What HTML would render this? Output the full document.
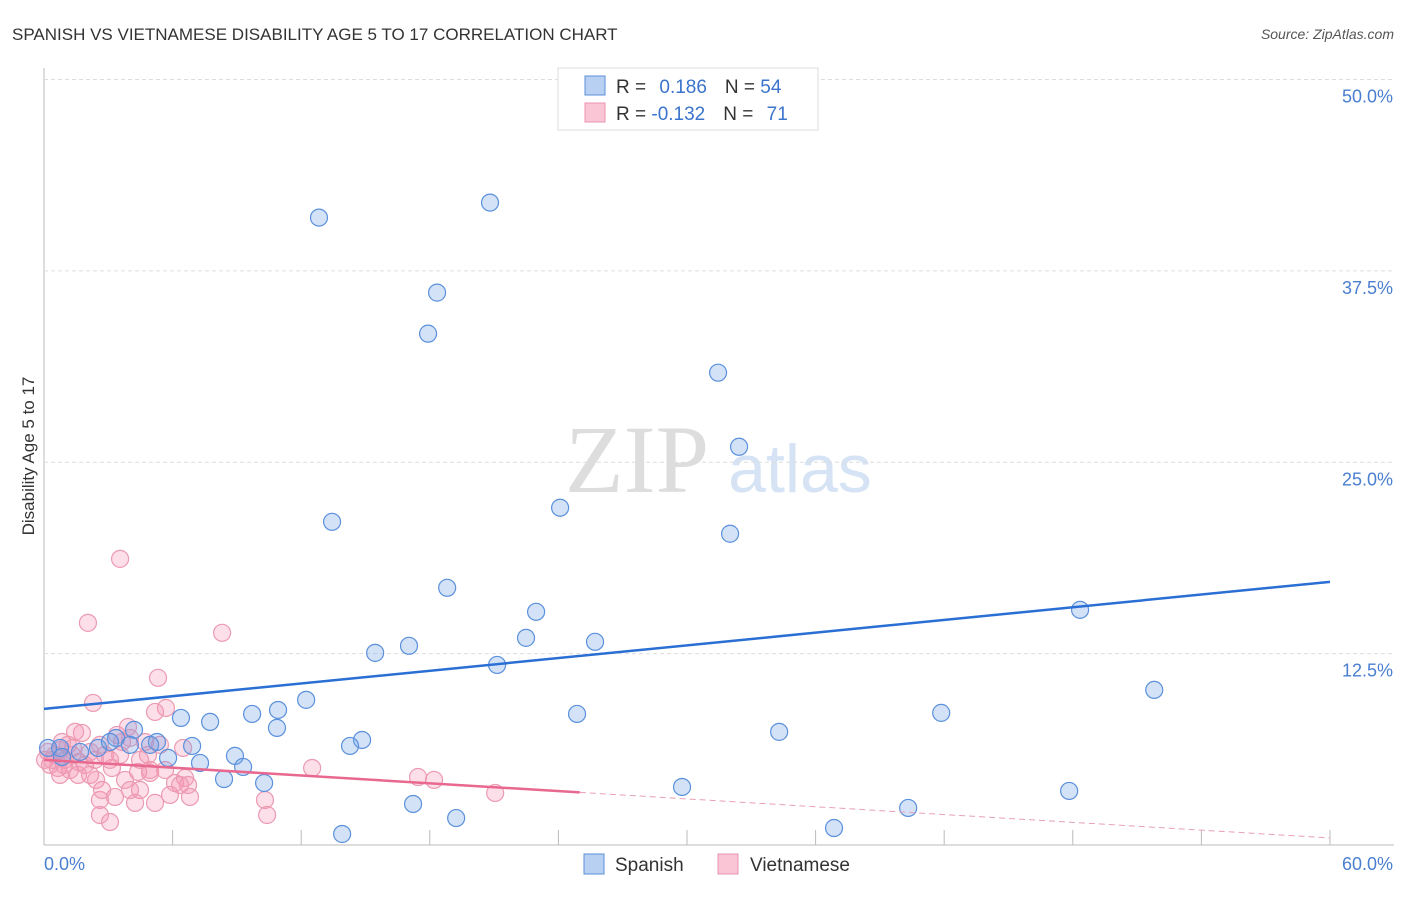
<!DOCTYPE html>
<html><head><meta charset="utf-8"><style>
body{margin:0;background:#fff;font-family:"Liberation Sans",sans-serif}
svg text{font-family:"Liberation Sans",sans-serif}
</style></head><body>
<svg id="c" width="1406" height="892">
<text x="12" y="40" font-size="17" fill="#333">SPANISH VS VIETNAMESE DISABILITY AGE 5 TO 17 CORRELATION CHART</text>
<text x="1394" y="39" font-size="14" fill="#555" font-style="italic" text-anchor="end">Source: ZipAtlas.com</text>
<text x="637" y="492" font-size="96" fill="#ddd" font-family="Liberation Serif" text-anchor="middle" style="font-family:'Liberation Serif',serif">ZIP</text>
<text x="800" y="492" font-size="68" fill="#d5e3f5" text-anchor="middle">atlas</text>
<text transform="translate(34,456) rotate(-90)" font-size="17" fill="#333" text-anchor="middle">Disability Age 5 to 17</text>
<g id="grid"></g><g id="pts"></g><g id="trend"></g>
<g>
<rect x="558" y="68" width="260" height="62" fill="#fff" stroke="#ddd"/>
<rect x="585" y="76" width="20" height="19" fill="#b8d0f2" stroke="#5b8fd8"/>
<rect x="585" y="103" width="20" height="19" fill="#fac6d5" stroke="#ec93ad"/>
<text x="616" y="93" font-size="19" fill="#333">R = <tspan fill="#3a74cc" dx="8">0.186</tspan><tspan dx="18" fill="#333">N = </tspan><tspan fill="#3a74cc">54</tspan></text>
<text x="616" y="120" font-size="19" fill="#333">R = <tspan fill="#3a74cc">-0.132</tspan><tspan dx="18" fill="#333">N = </tspan><tspan fill="#3a74cc" dx="8">71</tspan></text>
</g>
<g>
<rect x="584" y="854" width="20" height="20" fill="#b8d0f2" stroke="#5b8fd8"/>
<text x="615" y="871" font-size="19" fill="#333">Spanish</text>
<rect x="718" y="854" width="20" height="20" fill="#fac6d5" stroke="#ec93ad"/>
<text x="750" y="871" font-size="19" fill="#333">Vietnamese</text>
</g>
</svg>
<script>
const xTicks=["0.0%","60.0%"];
const yTicks=[12.5,25,37.5,50];
const spanishX=[12.83,20.81,18.34,17.92,31.45,32.43,13.44,24.08,32.01,18.81,22.96,48.34,22.49,25.71,17.03,15.45,21.14,51.80,12.23,10.92,9.71,6.39,7.75,24.87,41.86,10.87,4.20,34.30,14.84,14.28,5.27,6.91,3.36,2.52,0.75,0.19,5.79,7.28,8.91,9.29,8.40,10.27,29.77,47.83,17.22,40.32,19.23,13.91,36.86,4.01,1.68,0.84,3.08,4.95];
const spanishY=[40.98,41.96,36.08,33.40,30.85,26.01,21.11,22.03,20.33,16.80,15.23,15.36,13.53,13.27,13.01,12.55,11.76,10.13,9.48,8.82,8.56,8.30,8.04,8.56,8.63,7.65,7.52,7.39,6.86,6.47,6.73,6.47,6.99,6.34,6.34,6.34,5.69,5.36,5.82,5.10,4.31,4.05,3.79,3.53,2.68,2.42,1.76,0.72,1.11,6.54,6.08,5.75,6.73,6.54];
const vietX=[3.55,2.05,8.31,5.32,2.29,5.69,5.18,3.92,1.77,1.45,2.61,3.41,4.71,6.49,0.84,0.19,0.51,0.98,1.31,1.91,2.38,0.28,0.65,1.21,1.59,2.15,0.75,2.85,3.55,3.17,4.39,4.95,3.78,5.65,6.11,6.58,6.72,4.48,5.88,5.18,4.25,3.31,2.61,6.81,4.01,10.31,10.41,2.61,3.08,12.51,17.45,18.20,21.05,4.95,1.12,0.37,0.05,0.75,2.71,1.63,3.64,4.85,6.35,4.48,5.41,1.35,2.15,3.08,4.01,2.43,0.93];
const vietY=[18.69,14.51,13.86,10.92,9.28,8.95,8.69,7.71,7.32,7.39,6.54,7.19,6.73,6.34,6.73,6.08,5.88,5.56,5.88,5.23,5.56,5.23,5.03,4.90,4.58,4.58,4.58,5.88,5.88,5.03,4.77,4.90,4.25,4.90,4.05,4.38,3.92,3.59,3.27,2.75,2.75,3.14,2.94,3.14,3.59,2.94,1.96,1.96,1.50,5.03,4.44,4.25,3.40,4.71,6.54,5.56,5.56,6.21,3.59,5.42,6.73,5.88,3.92,5.56,6.54,6.34,6.08,5.56,6.99,4.25,5.23];
const spanishTrend=[8.89,17.19];
const vietTrend=[5.56,0.46];
const vietSolidEnd=25;
const NS="http://www.w3.org/2000/svg";
const X=v=>44+v*21.433, Y=v=>845-v*15.31;
function mk(t,a,p){const e=document.createElementNS(NS,t);for(const k in a)e.setAttribute(k,a[k]);document.getElementById(p).appendChild(e);return e;}
// axes
let e=mk('line',{x1:44,y1:68,x2:44,y2:845,stroke:'#bbb'},'grid');


e=mk('line',{x1:44,y1:845,x2:1394,y2:845,stroke:'#bbb'},'grid');


for(let i=0;i<=10;i++){e=mk('line',{x1:X(i*6),y1:830,x2:X(i*6),y2:845,stroke:'#bbb'},'grid');

}
yTicks.forEach(v=>{e=mk('line',{x1:44,y1:Y(v),x2:1394,y2:Y(v),stroke:'#ddd','stroke-dasharray':'4,3'},'grid');


e=mk('text',{x:1393,y:Y(v)+23,'font-size':18,fill:'#4a7fd0','text-anchor':'end'},'grid');e.textContent=v.toFixed(1)+'%';

});
e=mk('text',{x:44,y:870,'font-size':18,fill:'#4a7fd0'},'grid');e.textContent=xTicks[0];


e=mk('text',{x:1393,y:870,'font-size':18,fill:'#4a7fd0','text-anchor':'end'},'grid');e.textContent=xTicks[1];


vietX.forEach((v,i)=>{e=mk('circle',{cx:X(v),cy:Y(vietY[i]),r:8.5,fill:'rgba(244,150,178,0.3)',stroke:'#ec9ab2','stroke-width':1.2},'pts');

});
spanishX.forEach((v,i)=>{e=mk('circle',{cx:X(v),cy:Y(spanishY[i]),r:8.5,fill:'rgba(110,160,230,0.3)',stroke:'#5a90dc','stroke-width':1.2},'pts');

});
e=mk('line',{x1:X(0),y1:Y(spanishTrend[0]),x2:X(60),y2:Y(spanishTrend[1]),stroke:'#2a6fd4','stroke-width':2.5},'trend');


const vm=vietTrend[0]+(vietTrend[1]-vietTrend[0])*vietSolidEnd/60;
e=mk('line',{x1:X(0),y1:Y(vietTrend[0]),x2:X(vietSolidEnd),y2:Y(vm),stroke:'#e8688f','stroke-width':2.5},'trend');


e=mk('line',{x1:X(vietSolidEnd),y1:Y(vm),x2:X(60),y2:Y(vietTrend[1]),stroke:'#e8a0b5','stroke-width':1,'stroke-dasharray':'6,4'},'trend');


</script>
</body></html>
